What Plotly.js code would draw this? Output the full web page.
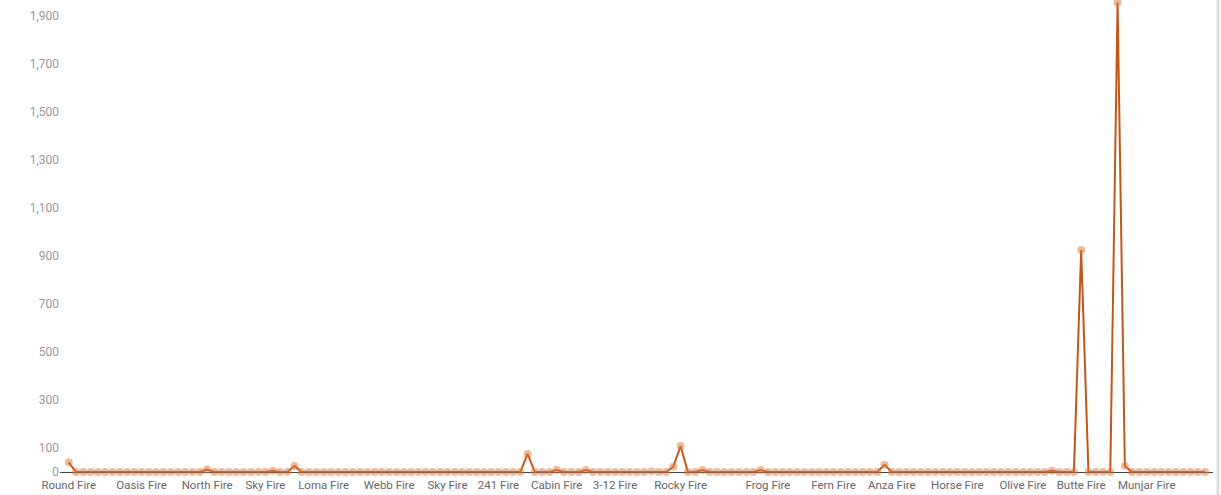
<!DOCTYPE html>
<html>
<head>
<meta charset="utf-8">
<script src="https://cdn.plot.ly/plotly-3.0.1.min.js"></script>
<style>html,body{margin:0;padding:0;background:#fff;}#chart{width:1221px;height:495px;}</style>
</head>
<body>
<div id="chart"></div>
<script>
// Acres burned per fire (one value per fire, in order)
const values = [
  40,0,0,0,0,0,0,0,0,0,
  0,0,0,0,0,0,0,0,0,10,
  0,0,0,0,0,0,0,0,5,0,
  0,25,0,0,0,0,0,0,0,0,
  0,0,0,0,0,0,0,0,0,0,
  0,0,0,0,0,0,0,0,0,0,
  0,0,0,75,0,0,0,8,0,0,
  0,8,0,0,0,0,0,0,0,0,
  3,0,0,22,108,0,0,8,0,0,
  0,0,0,0,0,8,0,0,0,0,
  0,0,0,0,0,0,0,0,0,0,
  0,0,30,0,0,0,0,0,0,0,
  0,0,0,0,0,0,0,0,0,0,
  0,0,0,0,0,5,0,0,0,925,
  0,0,0,0,1955,25,0,0,0,0,
  0,0,0,0,0,0,0
];
// Fire names shown on the x axis and their position in the series
const tickLabels = ["Round Fire","Oasis Fire","North Fire","Sky Fire","Loma Fire","Webb Fire","Sky Fire","241 Fire","Cabin Fire","3-12 Fire","Rocky Fire","Frog Fire","Fern Fire","Anza Fire","Horse Fire","Olive Fire","Butte Fire","Munjar Fire"];
const tickIndex = [0,10,19,27,35,44,52,59,67,75,84,96,105,113,122,131,139,148];
const yTicks = [0,100,300,500,700,900,1100,1300,1500,1700,1900];

const xs = values.map((v, i) => i);

Plotly.newPlot('chart', [{
  x: xs,
  y: values,
  type: 'scatter',
  mode: 'lines+markers',
  line: {color: '#c2571b', width: 2},
  marker: {color: 'rgba(222,120,60,0.5)', size: 8},
  cliponaxis: false,
  hoverinfo: 'x+y'
}], {
  width: 1221,
  height: 495,
  margin: {l: 60, r: 8, t: 0, b: 23},
  paper_bgcolor: '#fff',
  plot_bgcolor: '#fff',
  showlegend: false,
  font: {family: 'Roboto, Arial, sans-serif'},
  xaxis: {
    range: [-1.2, 157.1],
    tickvals: tickIndex,
    ticktext: tickLabels,
    showgrid: false,
    zeroline: false,
    showline: false,
    ticks: '',
    tickangle: 0,
    ticklabelstandoff: 4,
    tickfont: {size: 11.5, color: '#666'}
  },
  yaxis: {
    range: [0, 1966],
    tickvals: yTicks,
    tickformat: ',d',
    showgrid: false,
    zeroline: true,
    zerolinecolor: '#444',
    zerolinewidth: 1,
    showline: false,
    ticks: '',
    tickfont: {size: 12, color: '#999'}
  },
  shapes: [{
    type: 'line', xref: 'paper', yref: 'paper',
    x0: 1.0043, x1: 1.0043, y0: -0.05, y1: 1.0,
    line: {color: '#ddd', width: 3}
  }]
}, {displayModeBar: false, staticPlot: true});
</script>
</body>
</html>
